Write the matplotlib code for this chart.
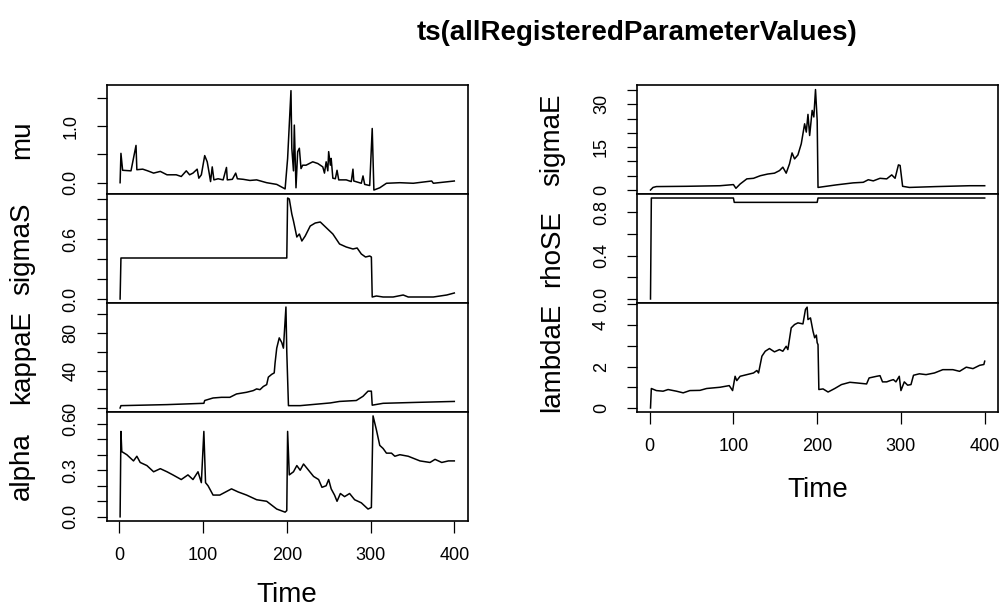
import matplotlib.pyplot as plt

plt.rcParams['font.family'] = ['Liberation Sans', 'DejaVu Sans']

# values (time, value knots)
mu_t = [1, 2, 4, 14, 20, 21, 28, 34, 41, 49, 57, 68, 74, 80, 84, 88, 93, 95, 98, 102,
        105, 107, 109, 111, 113, 118, 124, 128, 129, 135, 139, 141, 148, 156, 164, 176, 188,
        198, 201, 205, 206, 208, 209, 211, 213, 215, 217, 219, 223, 231, 237, 243, 245, 247,
        249, 250, 252, 253, 255, 258, 260, 262, 271, 277, 279, 280, 289, 291, 293, 299, 302,
        304, 311, 319, 335, 351, 373, 375, 400]
mu_v = [0.0, 0.52, 0.22, 0.21, 0.66, 0.23, 0.24, 0.21, 0.17, 0.20, 0.14, 0.14, 0.11, 0.21,
        0.14, 0.17, 0.24, 0.08, 0.14, 0.48, 0.37, 0.20, 0.02, 0.28, 0.05, 0.07, 0.05, 0.27,
        0.05, 0.06, 0.17, 0.07, 0.06, 0.04, 0.05, 0.0, -0.03, -0.11, 0.43, 1.63, 0.61, 0.21,
        1.02, -0.09, 0.55, 0.61, 0.25, 0.31, 0.31, 0.37, 0.34, 0.28, 0.17, 0.37, 0.21, 0.55,
        0.31, 0.43, 0.08, 0.07, 0.22, 0.05, 0.05, 0.02, 0.24, 0.03, -0.01, 0.12, -0.03, -0.05,
        0.96, -0.13, -0.09, -0.01, 0.0, -0.01, 0.03, -0.01, 0.03]

sigmaS_t = [1, 2, 200, 201, 203, 206, 208, 212, 215, 218, 222, 228, 234, 240, 245, 255, 263,
            271, 279, 284, 289, 294, 299, 301, 302, 307, 315, 327, 339, 345, 375, 391, 400]
sigmaS_v = [0.0, 0.41, 0.41, 1.01, 1.0, 0.85, 0.78, 0.62, 0.65, 0.58, 0.63, 0.73, 0.76, 0.77,
            0.73, 0.65, 0.55, 0.52, 0.50, 0.51, 0.45, 0.42, 0.43, 0.42, 0.02, 0.03, 0.02, 0.02,
            0.04, 0.02, 0.02, 0.04, 0.06]

kappaE_t = [1, 2, 57, 101, 102, 112, 122, 132, 140, 152, 160, 164, 168, 172, 176, 178, 182,
            185, 186, 188, 191, 194, 196, 199, 200, 202, 216, 252, 263, 283, 291, 297, 301,
            302, 315, 355, 400]
kappaE_v = [0, 2.5, 3.6, 5.0, 8.0, 10.7, 11.4, 11.4, 15.0, 16.8, 18.6, 20.4, 19.6, 23.0, 25.0,
            33.0, 36.0, 37.5, 48.0, 64.0, 75.0, 70.0, 64.0, 108.0, 60.0, 2.5, 2.5, 5.4, 7.0,
            8.0, 12.5, 18.0, 18.0, 3.0, 5.0, 6.0, 7.0]

alpha_t = [1, 2, 3, 9, 17, 21, 25, 33, 41, 49, 57, 64, 74, 82, 88, 94, 98, 101, 103, 106,
           112, 120, 134, 142, 152, 164, 176, 188, 198, 200, 201, 203, 208, 212, 216, 220, 226,
           232, 238, 242, 247, 250, 253, 257, 260, 264, 269, 275, 281, 289, 297, 301, 303, 307,
           311, 315, 319, 325, 329, 335, 345, 359, 371, 377, 385, 393, 400]
alpha_v = [0.0, 0.55, 0.42, 0.40, 0.36, 0.39, 0.35, 0.33, 0.29, 0.31, 0.29, 0.27, 0.24, 0.27,
           0.24, 0.29, 0.22, 0.55, 0.22, 0.20, 0.14, 0.14, 0.18, 0.16, 0.14, 0.11, 0.10, 0.05,
           0.03, 0.04, 0.55, 0.27, 0.29, 0.33, 0.30, 0.34, 0.30, 0.26, 0.24, 0.19, 0.20, 0.24,
           0.18, 0.14, 0.10, 0.15, 0.13, 0.15, 0.11, 0.09, 0.05, 0.06, 0.65, 0.56, 0.46, 0.44,
           0.41, 0.41, 0.39, 0.40, 0.39, 0.36, 0.35, 0.37, 0.35, 0.36, 0.36]

sigmaE_t = [1, 4, 8, 44, 84, 100, 103, 108, 116, 124, 132, 141, 149, 155, 159, 163, 167, 170,
            173, 177, 181, 185, 187, 189, 191, 194, 196, 198, 200, 201, 223, 243, 255, 261,
            267, 275, 283, 289, 293, 297, 299, 302, 310, 342, 382, 400]
sigmaE_v = [0.0, 0.9, 1.2, 1.3, 1.5, 1.9, 0.6, 2.1, 3.9, 4.1, 5.0, 5.6, 5.9, 6.8, 8.0, 5.9,
            9.2, 13.0, 10.9, 12.3, 16.2, 23.2, 20.3, 26.5, 19.1, 27.9, 25.6, 35.2, 24.4, 0.9,
            1.8, 2.5, 2.7, 3.6, 3.2, 4.1, 3.9, 5.3, 4.1, 8.8, 8.6, 1.3, 0.9, 1.2, 1.5, 1.5]

rhoSE_t = [1, 2, 100, 101, 200, 201, 400]
rhoSE_v = [0.0, 0.93, 0.93, 0.89, 0.89, 0.93, 0.93]

lambdaE_t = [1, 2, 8, 16, 22, 32, 40, 48, 60, 68, 84, 95, 99, 102, 104, 108, 116, 124, 128,
             130, 134, 138, 143, 149, 155, 159, 163, 165, 169, 173, 177, 183, 186, 188, 189,
             192, 195, 197, 199, 200, 201, 202, 207, 213, 221, 229, 239, 247, 259, 262, 271,
             275, 278, 283, 287, 291, 294, 298, 300, 304, 308, 312, 315, 322, 330, 340, 350,
             362, 370, 378, 386, 394, 399, 400]
lambdaE_v = [0.0, 0.94, 0.84, 0.81, 0.89, 0.81, 0.73, 0.84, 0.85, 0.94, 1.0, 1.08, 0.84, 1.53,
             1.32, 1.53, 1.61, 1.69, 1.81, 1.69, 2.5, 2.74, 2.87, 2.71, 2.82, 2.74, 2.98, 2.82,
             3.87, 4.03, 4.11, 4.06, 4.76, 4.87, 4.27, 4.35, 3.71, 3.39, 3.52, 3.15, 3.06, 0.89,
             0.92, 0.77, 0.94, 1.13, 1.24, 1.21, 1.16, 1.45, 1.53, 1.56, 1.26, 1.26, 1.32, 1.37,
             1.26, 1.53, 0.84, 1.26, 1.10, 1.13, 1.58, 1.65, 1.61, 1.69, 1.85, 1.85, 1.77, 1.97,
             1.90, 2.06, 2.10, 2.26]

x_ticks = [0, 100, 200, 300, 400]

W, H = 1003, 609
fig = plt.figure(figsize=(W / 100, H / 100), dpi=100)

row_top = [85, 194, 303, 412]
row_h = 109
col_left = [106.7, 637.1]
col_w = 361


def panel(col, row, t, v, name, ylim, yticks, ylabels, bottom=False, time_y=-0.78):
    rect = [col_left[col] / W, 1 - (row_top[row] + row_h) / H, col_w / W, row_h / H]
    ax = fig.add_axes(rect)
    ax.plot(t, v, color='black', lw=1.1)
    ax.set_xlim(-15, 416)
    ax.set_ylim(*ylim)
    ax.set_yticks(yticks)
    ax.set_yticklabels(ylabels, rotation=90, va='center', fontsize=13)
    ax.tick_params(axis='y', length=7.5, width=0.9, pad=12)
    for s in ax.spines.values():
        s.set_linewidth(1.2)
    ax.text(-0.235, 0.5, name, transform=ax.transAxes, rotation=90,
            ha='center', va='center', fontsize=20)
    if bottom:
        ax.set_xticks(x_ticks)
        ax.set_xticklabels([str(x) for x in x_ticks], fontsize=13)
        ax.tick_params(axis='x', length=8.5, width=0.9, pad=10)
        ax.text(0.5, time_y, 'Time', transform=ax.transAxes,
                ha='center', va='baseline', fontsize=20)
    else:
        ax.set_xticks([])
    return ax


panel(0, 0, mu_t, mu_v, 'mu', (-0.2, 1.73), [0, 0.5, 1.0, 1.5],
      ['0.0', '', '1.0', ''])
panel(0, 1, sigmaS_t, sigmaS_v, 'sigmaS', (-0.04, 1.05), [0, 0.2, 0.4, 0.6, 0.8, 1.0],
      ['0.0', '', '', '0.6', '', ''])
panel(0, 2, kappaE_t, kappaE_v, 'kappaE', (-4.3, 112.3), [0, 20, 40, 60, 80, 100],
      ['0', '', '40', '', '80', ''])
panel(0, 3, alpha_t, alpha_v, 'alpha', (-0.027, 0.675), [0, 0.1, 0.2, 0.3, 0.4, 0.5, 0.6],
      ['0.0', '', '', '0.3', '', '', '0.6'], bottom=True, time_y=-0.745)

panel(1, 0, sigmaE_t, sigmaE_v, 'sigmaE', (-1.4, 36.8), [0, 5, 10, 15, 20, 25, 30, 35],
      ['0', '', '', '15', '', '', '30', ''])
panel(1, 1, rhoSE_t, rhoSE_v, 'rhoSE', (-0.037, 0.967), [0, 0.2, 0.4, 0.6, 0.8],
      ['0.0', '', '0.4', '', '0.8'])
panel(1, 2, lambdaE_t, lambdaE_v, 'lambdaE', (-0.195, 5.07), [0, 1, 2, 3, 4, 5],
      ['0', '', '2', '', '4', ''], bottom=True)

fig.text(637 / W, 1 - 33 / H, 'ts(allRegisteredParameterValues)', ha='center', va='center',
         fontsize=20, fontweight='bold')

fig.savefig('out.png', dpi=100)
